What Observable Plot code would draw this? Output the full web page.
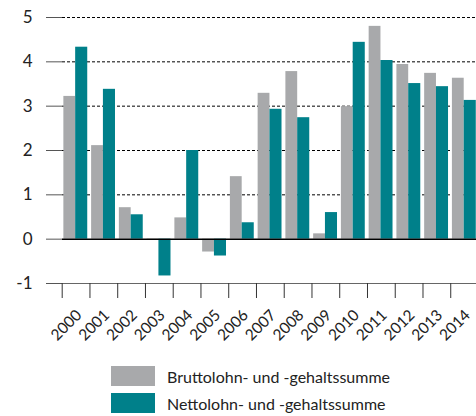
<!DOCTYPE html>
<html><head><meta charset="utf-8">
<script src="https://cdn.jsdelivr.net/npm/d3@7"></script>
<script src="https://cdn.jsdelivr.net/npm/@observablehq/plot@0.6"></script>
<style>
html,body{margin:0;padding:0;background:#fff;overflow:hidden;}
body{font-family:Lato,"Noto Sans",sans-serif;width:476px;height:416px;color:#222;}
#chart svg{overflow:hidden;}
#legend{margin-top:10px;margin-left:111px;}
.row{display:flex;align-items:center;height:20px;margin-bottom:7px;}
.sw{width:44px;height:20px;margin-right:12px;flex:none;}
.lab{font-size:16px;color:#222;white-space:nowrap;}
</style></head><body><div id="chart"></div><div id="legend"></div>
<script>
const years = [2000,2001,2002,2003,2004,2005,2006,2007,2008,2009,2010,2011,2012,2013,2014];
const brutto = [3.22,2.11,0.71,-0.02,0.48,-0.29,1.41,3.29,3.78,0.12,2.99,4.80,3.94,3.74,3.63];
const netto  = [4.33,3.38,0.55,-0.83,2.00,-0.38,0.37,2.93,2.74,0.60,4.44,4.03,3.51,3.44,3.13];
const seriesNames = ["Bruttolohn- und -gehaltssumme","Nettolohn- und -gehaltssumme"];
const colors = ["#a8a9ab","#00808a"];
const yTicks = [-1,0,1,2,3,4,5];
const gridTicks = [1,2,3,4,5];

const data = years.flatMap((y,i)=>[
  {year:y, k:0, series:seriesNames[0], value:brutto[i]},
  {year:y, k:1, series:seriesNames[1], value:netto[i]}
]);
const boundaries = years.map(y=>y-0.5).concat([years[years.length-1]+0.5]);

const chart = Plot.plot({
  width:476, height:356,
  marginTop:17, marginBottom:73, marginLeft:62, marginRight:0,
  style:{fontFamily:"Lato, 'Noto Sans', sans-serif", color:"#222", background:"#fff"},
  x:{domain:[1999.5,2014.5], range:[61.7,478], label:null},
  y:{domain:[-1,5], label:null},
  color:{domain:seriesNames, range:colors},
  marks:[
    Plot.ruleY(gridTicks,{stroke:"#000", strokeWidth:1, strokeDasharray:"3,2"}),
    Plot.rectY(data,{
      x1:d=>d.year + (d.k===0 ? -0.44 : -0.015),
      x2:d=>d.year + (d.k===0 ? -0.015 : 0.42),
      y1:0, y2:d=>d.value, fill:"series"
    }),
    Plot.ruleY([0],{stroke:"#000", strokeWidth:1.5}),
    Plot.ruleY([-1],{stroke:"#666", strokeWidth:1}),
    Plot.axisY({ticks:yTicks, tickSize:16, tickPadding:14, fontSize:17, stroke:"#555", tickFormat:d=>String(d)}),
    Plot.axisX({ticks:boundaries, tickSize:15, stroke:"#333", tickFormat:()=>""}),
    Plot.axisX({ticks:years, tickSize:0, tickPadding:29, tickRotate:-45, fontSize:15.5, dx:3, tickFormat:d=>String(d)})
  ]
});
document.getElementById("chart").appendChild(chart);

const legend = document.getElementById("legend");
seriesNames.forEach((name,i)=>{
  const row = document.createElement("div"); row.className="row";
  const sw = document.createElement("div"); sw.className="sw"; sw.style.background=colors[i];
  const lab = document.createElement("div"); lab.className="lab"; lab.textContent=name;
  row.appendChild(sw); row.appendChild(lab); legend.appendChild(row);
});
</script></body></html>
